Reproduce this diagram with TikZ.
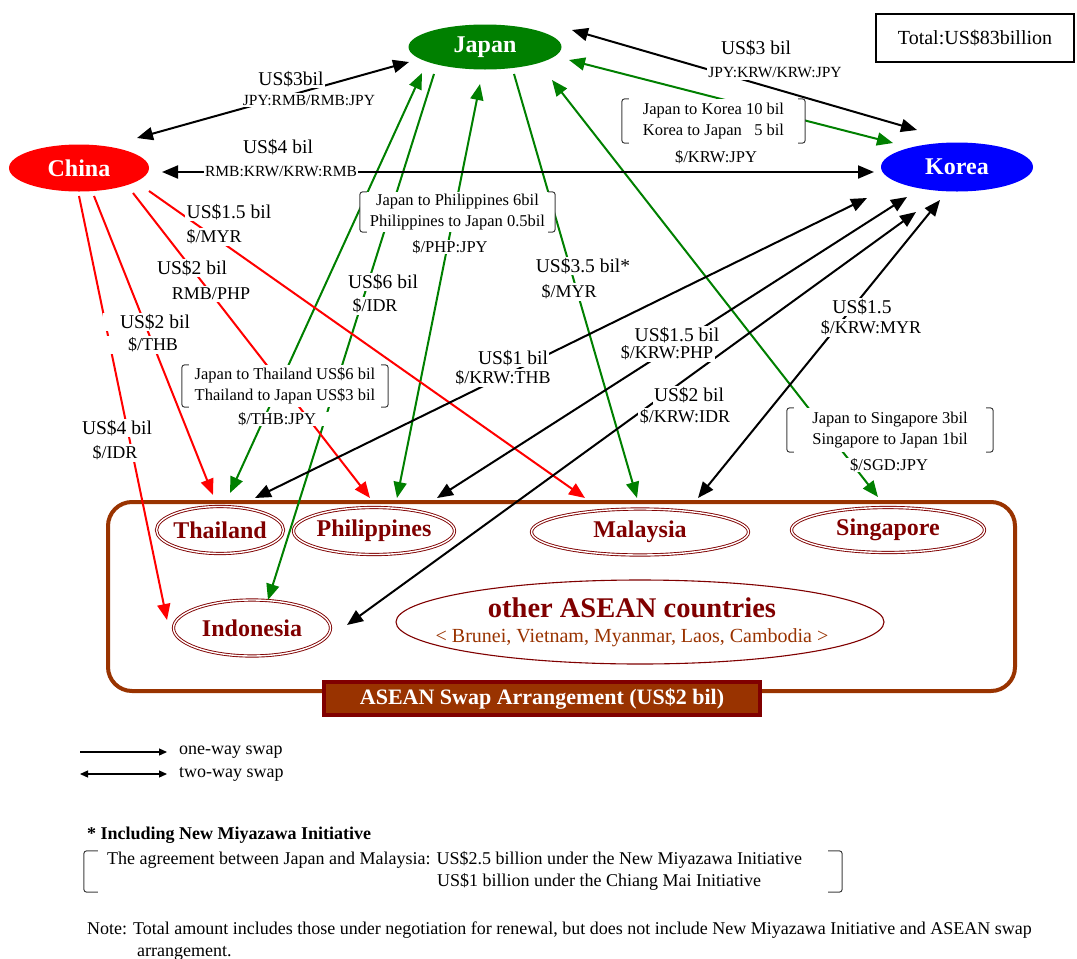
\documentclass[tikz,border=0pt]{standalone}
\usepackage{fontspec}
\setmainfont{Liberation Serif}
\usetikzlibrary{arrows.meta,shapes.geometric}
\definecolor{jgreen}{RGB}{0,128,0}
\definecolor{cred}{RGB}{255,0,0}
\definecolor{kblue}{RGB}{0,0,255}
\definecolor{abrown}{RGB}{153,51,0}
\definecolor{dred}{RGB}{128,0,0}
\newcommand\fsz[2]{\fontsize{#1}{#2}\selectfont}
\newcommand\bracketsof[2]{%
 \draw[brkl] ([xshift=#2]#1.north west) -- (#1.north west) -- (#1.south west) -- ([xshift=#2]#1.south west);
 \draw[brkl] ([xshift=-#2]#1.north east) -- (#1.north east) -- (#1.south east) -- ([xshift=-#2]#1.south east);}
\begin{document}
\begin{tikzpicture}[x=1pt,y=-1pt,
 >={Triangle[length=16pt,width=13pt]},
 big/.style={ellipse, inner sep=0pt, text=white, font=\fsz{24}{28}\bfseries},
 cty/.style={ellipse, draw=dred, double=white, double distance=1.4pt, line width=0.9pt, inner sep=0pt, text=dred, font=\fsz{24}{28}\bfseries},
 gl/.style={draw=jgreen, line width=2pt},
 rl/.style={draw=cred, line width=2pt},
 kl/.style={draw=black, line width=2pt},
 amt/.style={fill=white, inner sep=1.5pt, font=\fsz{19.5}{22}},
 cur/.style={fill=white, inner sep=1.5pt, font=\fsz{18}{21}},
 code/.style={fill=white, inner sep=1.5pt, font=\fsz{15.5}{18}},
 brbox/.style={fill=white, inner sep=0pt, align=center, font=\fsz{16.5}{21}},
 brkl/.style={draw=black!75, line width=1pt, rounded corners=3pt},
 note/.style={anchor=west, inner sep=0pt, font=\fsz{18}{21}},
]
\useasboundingbox[fill=white] (0,0) rectangle (1077,959);

% ASEAN container and members
\node[draw=abrown, line width=4pt, rounded corners=24pt, minimum width=907pt, minimum height=189pt, inner sep=0pt] (aseanbox) at (561.5,596.5) {};
\node[cty, minimum width=127pt, minimum height=47pt] (Thailand) at (220,530) {\hspace*{-8pt}Thailand\hspace*{-8pt}};
\node[cty, minimum width=161pt, minimum height=47pt] (Philippines) at (374,531) {\hspace*{-8pt}Philippines\hspace*{-8pt}};
\node[cty, minimum width=217pt, minimum height=46pt] (Malaysia) at (640,532) {Malaysia};
\node[cty, minimum width=193pt, minimum height=45pt] (Singapore) at (888,530) {Singapore};
\node[cty, minimum width=157pt, minimum height=56pt] (Indonesia) at (252,628) {Indonesia};
\node[ellipse, draw=dred, line width=1.1pt, minimum width=488pt, minimum height=84pt, inner sep=0pt] (others) at (640,622) {};
\node[align=center, text=dred, inner sep=0pt, font=\fsz{20}{25}] (otherstext) at ([xshift=-8pt]others.center)
 {{\fsz{28.5}{30}\bfseries other ASEAN countries}\\{\color{abrown}< Brunei, Vietnam, Myanmar, Laos, Cambodia >}};

% main countries
\node[big, fill=jgreen, minimum width=153pt, minimum height=45pt] (Japan) at (485,47) {Japan};
\node[big, fill=cred, minimum width=140pt, minimum height=47pt] (China) at (79,168) {China};
\node[big, fill=kblue, minimum width=152pt, minimum height=49pt] (Korea) at (957,167) {Korea};

% green (Japan)
\draw[gl,<->] ([shift={(-63,26)}]Japan.center) -- ([shift={(10,-37)}]Thailand.center);
\draw[gl,->] ([shift={(-51,27)}]Japan.center) -- ([shift={(16,-28)}]Indonesia.center);
\draw[gl,<->] ([shift={(-5,37)}]Japan.center) -- ([shift={(23,-33)}]Philippines.center);
\draw[gl,->] ([shift={(29,27)}]Japan.center) -- ([shift={(-3,-34)}]Malaysia.center);
\draw[gl,<->] ([shift={(67,33)}]Japan.center) -- ([shift={(-10,-33)}]Singapore.center);
\draw[gl,<->] ([shift={(84,13)}]Japan.center) -- ([shift={(-64,-24)}]Korea.center);

% red (China)
\draw[rl,->] ([shift={(0,28)}]China.center) -- ([shift={(-85,-8)}]Indonesia.center);
\draw[rl,->] ([shift={(15,28)}]China.center) -- ([shift={(-7,-35)}]Thailand.center);
\draw[rl,->] ([shift={(54,25)}]China.center) -- ([shift={(-4,-33)}]Philippines.center);
\draw[rl,->] ([shift={(70,23)}]China.center) -- ([shift={(-55,-34)}]Malaysia.center);

% black
\draw[kl,<->] ([shift={(58,-30)}]China.center) -- ([shift={(-76,15)}]Japan.center);
\draw[kl,<->] ([shift={(83,4)}]China.center) -- ([shift={(-83,5)}]Korea.center);
\draw[kl,<->] ([shift={(87,-17)}]Japan.center) -- ([shift={(-40,-37)}]Korea.center);
\draw[kl,<->] ([shift={(-90,31)}]Korea.center) -- ([shift={(35,-32)}]Thailand.center);
\draw[kl,<->] ([shift={(-50,30)}]Korea.center) -- ([shift={(63,-33)}]Philippines.center);
\draw[kl,<->] ([shift={(-41,45)}]Korea.center) -- ([shift={(95,-3)}]Indonesia.center);
\draw[kl,<->] ([shift={(-17,33)}]Korea.center) -- ([shift={(58,-34)}]Malaysia.center);

% labels: top
\node[amt] (lcj1) at (291,79) {US\$3bil};
\node[code] (lcj2) at (309,100) {JPY:RMB/RMB:JPY};
\node[amt] (lck1) at (278,147) {US\$4 bil};
\node[code] (lck2) at (281,172) {RMB:KRW/KRW:RMB};
\node[amt] (ljk1) at (756,48) {US\$3 bil};
\node[code] (ljk2) at (775,73) {JPY:KRW/KRW:JPY};

% labels: China
\node[amt, anchor=west] (lcm1) at (185,212) {US\$1.5 bil};
\node[cur, anchor=west] (lcm2) at (185,237) {\$/MYR};
\node[amt] (lcp1) at (192,268) {US\$2 bil};
\node[cur] (lcp2) at (211,294) {RMB/PHP};
\node[amt, minimum width=104pt] (lct1) at (155,322) {US\$2 bil};
\node[cur, minimum width=104pt] (lct2) at (153,345) {\$/THB};
\node[amt] (lci1) at (117,428) {US\$4 bil};
\node[cur] (lci2) at (115,453) {\$/IDR};

% labels: Japan
\node[amt] (lji1) at (383,282) {US\$6 bil};
\node[cur] (lji2) at (375,306) {\$/IDR};
\node[amt] (ljm1) at (583,266) {US\$3.5 bil*};
\node[cur] (ljm2) at (569,292) {\$/MYR};

\node[brbox, minimum width=195pt, minimum height=40pt] (brp) at (457.5,212) {Japan to Philippines 6bil\\Philippines to Japan 0.5bil};
\bracketsof{brp}{7pt}
\node[brbox] (lpc) at (450,247) {\$/PHP:JPY};
\node[brbox, minimum width=206pt, minimum height=42pt] (brt) at (285,386) {Japan to Thailand US\$6 bil\\Thailand to Japan US\$3 bil};
\bracketsof{brt}{7pt}
\node[brbox, minimum width=110pt] (ltc) at (277,419) {\$/THB:JPY};
\node[brbox, minimum width=183pt, minimum height=44pt] (brk) at (713.5,121) {Japan to Korea 10 bil\\Korea to Japan \phantom{1}5 bil};
\bracketsof{brk}{7pt}
\node[brbox] (lkc) at (716,157) {\$/KRW:JPY};
\node[brbox, minimum width=206pt, minimum height=44pt] (brs) at (890,430) {Japan to Singapore 3bil\\Singapore to Japan 1bil};
\bracketsof{brs}{7pt}
\node[brbox, minimum width=100pt] (lsc) at (889,465) {\$/SGD:JPY};

% labels: Korea
\node[amt] (lkt1) at (513,358) {US\$1 bil};
\node[cur] (lkt2) at (503,378) {\$/KRW:THB};
\node[amt] (lkp1) at (677,335) {US\$1.5 bil};
\node[cur] (lkp2) at (667,353) {\$/KRW:PHP};
\node[amt] (lki1) at (689,395) {US\$2 bil};
\node[cur] (lki2) at (685,417) {\$/KRW:IDR};
\node[amt] (lkm1) at (862,307) {US\$1.5};
\node[cur] (lkm2) at (871,328) {\$/KRW:MYR};

% ASEAN swap label
\node[fill=abrown, draw=dred, line width=3.5pt, minimum width=436pt, minimum height=33pt, inner sep=0pt, text=white, font=\fsz{22}{26}\bfseries] (aseanlabel) at (542,698.5) {ASEAN Swap Arrangement (US\$2 bil)};

% total
\node[draw, line width=2.5pt, minimum width=198pt, minimum height=48pt, inner sep=0pt, font=\fsz{20}{24}] (total) at (975,38) {Total:US\$83billion};

% legend
\node[note] (leg1) at (179,752) {one-way swap};
\node[note] (leg2) at (179,774) {two-way swap};
\draw[line width=1.2pt, -{Triangle[length=8pt,width=7pt]}] ([xshift=-99pt]leg1.west) -- ([xshift=-12pt]leg1.west);
\draw[line width=1.2pt, {Triangle[length=8pt,width=7pt]}-{Triangle[length=8pt,width=7pt]}] ([xshift=-99pt]leg2.west) -- ([xshift=-12pt]leg2.west);

% notes
\node[note, font=\fsz{18}{21}\bfseries] (star) at (87,835) {* Including New Miyazawa Initiative};
\node[note] (agr1) at (107,860) {The agreement between Japan and Malaysia: US\$2.5 billion under the New Miyazawa Initiative};
\node[note] (agr2) at (437,882) {US\$1 billion under the Chiang Mai Initiative};
\node[minimum width=758pt, minimum height=41pt, inner sep=0pt] (agrbox) at (463,871.5) {};
\bracketsof{agrbox}{14pt}
\node[note] (note1) at (87,930) {Note: Total amount includes those under negotiation for renewal, but does not include New Miyazawa Initiative and ASEAN swap};
\node[note] (note2) at (137,953) {arrangement.};
\end{tikzpicture}
\end{document}
